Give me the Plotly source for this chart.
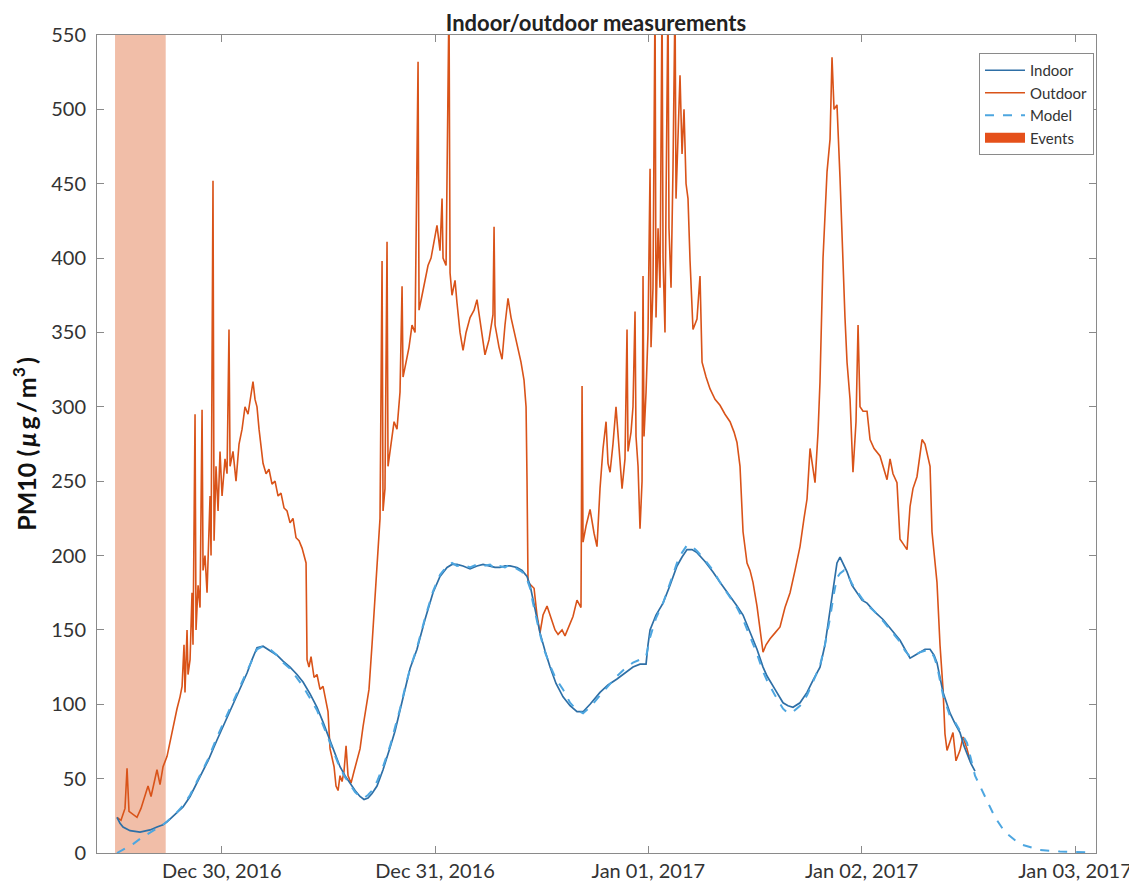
import pandas as pd
import plotly.graph_objects as go

BASE = pd.Timestamp("2016-12-29 00:00")

# ---- data (hours since 2016-12-29 00:00, PM10 in ug/m3) ----
out_h = [12.22, 12.67, 13.12, 13.35, 13.57, 14.02, 14.47, 14.92, 15.26, 15.71, 16.05, 16.50, 16.72, 17.06,
         17.40, 17.85, 18.19, 18.41, 18.75, 18.97, 19.31, 19.54, 19.76, 19.87, 20.10, 20.21, 20.44, 20.66,
         20.77, 21.00, 21.11, 21.34, 21.56, 21.79, 21.90, 22.12, 22.35, 22.57, 22.69, 22.80, 23.02, 23.14,
         23.36, 23.59, 23.81, 24.04, 24.37, 24.60, 24.82, 24.94, 25.27, 25.61, 25.95, 26.29, 26.62, 26.96,
         27.30, 27.52, 27.75, 27.97, 28.20, 28.42, 28.65, 28.99, 29.32, 29.66, 30.00, 30.34, 30.67, 31.01,
         31.35, 31.69, 32.02, 32.36, 32.70, 33.04, 33.37, 33.49, 33.60, 33.82, 34.05, 34.39, 34.72, 35.06,
         35.40, 35.74, 35.96, 36.19, 36.41, 36.64, 36.86, 37.09, 37.31, 37.54, 37.76, 37.99, 38.21, 38.55,
         38.89, 39.22, 39.56, 39.90, 40.24, 40.57, 40.91, 41.25, 41.59, 41.81, 42.04, 42.15, 42.37, 42.60,
         42.71, 43.05, 43.39, 43.72, 44.06, 44.29, 44.40, 44.74, 45.07, 45.41, 45.75, 46.09, 46.20, 46.54,
         46.87, 47.21, 47.55, 47.89, 48.22, 48.56, 48.79, 48.90, 49.24, 49.57, 49.69, 49.91, 50.25, 50.47,
         50.81, 51.15, 51.49, 51.94, 52.39, 52.72, 53.17, 53.62, 54.07, 54.52, 54.64, 54.75, 55.20, 55.54,
         55.87, 56.21, 56.55, 57.00, 57.34, 57.67, 58.01, 58.24, 58.35, 58.46, 58.80, 59.14, 59.47, 59.81,
         60.15, 60.60, 61.05, 61.50, 61.84, 62.29, 62.62, 63.07, 63.52, 63.97, 64.42, 64.54, 64.65, 64.99,
         65.44, 65.89, 66.22, 66.56, 66.90, 67.24, 67.46, 67.69, 68.02, 68.36, 68.70, 69.04, 69.37, 69.60,
         69.71, 70.05, 70.27, 70.50, 70.61, 70.84, 71.06, 71.29, 71.40, 71.51, 71.74, 71.96, 72.19, 72.30,
         72.52, 72.75, 72.86, 73.09, 73.31, 73.54, 73.65, 73.87, 73.99, 74.21, 74.32, 74.55, 74.77, 75.00,
         75.11, 75.34, 75.56, 75.79, 76.01, 76.24, 76.46, 76.69, 77.02, 77.47, 77.81, 78.04, 78.49, 78.94,
         79.50, 80.06, 80.62, 81.19, 81.64, 81.97, 82.31, 82.65, 83.10, 83.44, 83.77, 84.22, 84.56, 84.90,
         85.24, 85.69, 86.25, 86.81, 87.37, 87.94, 88.50, 89.06, 89.51, 89.85, 90.19, 90.52, 90.75, 91.09,
         91.31, 91.65, 91.87, 92.10, 92.44, 92.66, 92.89, 93.22, 93.56, 93.90, 94.12, 94.35, 94.69, 95.02,
         95.36, 95.59, 95.81, 96.15, 96.60, 96.94, 97.39, 98.06, 98.62, 98.85, 99.19, 99.52, 99.97, 100.31,
         100.65, 101.10, 101.44, 101.77, 102.22, 102.79, 103.12, 103.46, 103.69, 103.91, 104.25, 104.47,
         104.81, 105.15, 105.37, 105.60, 105.94, 106.27, 106.61, 107.06, 107.40, 107.85, 108.19]
out_v = [24, 22, 30, 57, 28, 26, 24, 30, 36, 45, 38, 50, 56, 46,
         58, 65, 75, 82, 90, 97, 105, 112, 140, 108, 150, 120, 130, 175,
         140, 295, 150, 180, 165, 298, 190, 200, 175, 215, 240, 200, 452, 210,
         260, 230, 270, 240, 265, 255, 352, 260, 270, 250, 275, 285, 300, 295,
         310, 317, 305, 300, 285, 275, 262, 255, 258, 248, 250, 240, 242, 232,
         230, 222, 225, 212, 210, 205, 198, 195, 130, 125, 132, 118, 120, 110,
         112, 100, 95, 70, 65, 58, 45, 42, 52, 48, 55, 72, 52, 47,
         55, 62, 70, 85, 98, 110, 140, 170, 200, 225, 398, 230, 245, 411,
         260, 275, 290, 285, 310, 381, 320, 330, 340, 355, 350, 532, 365, 375,
         385, 395, 400, 410, 422, 405, 440, 400, 395, 575, 390, 375, 385, 370,
         350, 338, 350, 360, 365, 372, 352, 335, 345, 362, 421, 355, 340, 332,
         355, 373, 360, 348, 338, 330, 318, 300, 250, 182, 180, 178, 160, 148,
         160, 166, 158, 150, 147, 150, 146, 152, 159, 170, 165, 314, 209, 220,
         231, 215, 206, 245, 272, 290, 262, 256, 275, 300, 270, 245, 265, 352,
         270, 283, 300, 364, 280, 260, 218, 250, 388, 280, 310, 350, 460, 340,
         380, 575, 360, 420, 380, 575, 400, 350, 440, 575, 420, 380, 460, 575,
         440, 480, 523, 470, 500, 450, 440, 398, 352, 359, 388, 330, 320, 312,
         305, 301, 295, 290, 283, 276, 260, 216, 195, 190, 182, 166, 150, 135,
         140, 144, 148, 152, 165, 175, 190, 206, 225, 238, 272, 260, 249, 283,
         317, 400, 430, 458, 480, 535, 500, 503, 454, 391, 360, 330, 305, 256,
         290, 355, 300, 297, 297, 278, 272, 267, 255, 251, 265, 255, 249, 211,
         208, 204, 233, 245, 253, 278, 275, 265, 260, 216, 195, 182,
         140, 110, 80, 69, 75, 81, 62, 69, 78, 70, 62]

in_h = [12.22, 12.56, 12.90, 13.69, 14.81, 15.94, 16.72, 17.40, 17.85, 18.75, 19.65, 20.44, 21.56, 22.46,
        23.47, 24.37, 25.27, 26.06, 26.85, 27.41, 27.97, 28.65, 29.44, 30.22, 30.90, 31.69, 32.47, 33.15,
        33.94, 34.72, 35.40, 36.19, 36.75, 37.31, 37.87, 38.44, 39.00, 39.56, 40.01, 40.46, 40.91, 41.47,
        42.15, 42.94, 43.50, 44.06, 44.62, 45.19, 45.97, 46.87, 47.77, 48.56, 49.35, 49.91, 50.47, 51.15,
        51.94, 52.72, 53.40, 54.19, 54.75, 55.31, 55.87, 56.44, 57.22, 57.79, 58.35, 58.69, 59.02, 59.47,
        59.81, 60.37, 60.94, 61.61, 62.40, 63.19, 63.97, 64.65, 65.44, 66.56, 67.46, 68.47, 69.37, 70.27,
        71.06, 71.74, 71.96, 72.19, 72.86, 73.65, 74.44, 75.22, 75.79, 76.35, 76.91, 77.47, 78.37, 79.27,
        80.06, 81.19, 81.97, 82.65, 83.44, 84.22, 84.90, 85.35, 86.25, 87.15, 87.71, 88.27, 89.06, 89.85,
        90.52, 91.31, 91.87, 92.44, 92.89, 93.22, 93.56, 94.01, 94.35, 94.91, 95.47, 96.04, 96.60, 97.50,
        98.40, 99.41, 100.31, 100.87, 101.44, 102.00, 102.56, 103.12, 103.69, 104.14, 104.47, 104.81,
        105.15, 105.60, 105.94, 106.50, 107.06, 107.51, 107.85, 108.30, 108.75]
in_v = [24, 20, 17.5, 15, 14, 15.5, 17.5, 19, 21, 26, 31, 38, 51, 62,
        76, 88, 101, 111, 121, 130, 138, 139, 136, 133, 129, 125, 120, 115,
        107, 98, 88, 76, 67, 58, 52, 47, 42, 38, 36, 37, 40, 45,
        56, 71, 82, 96, 110, 124, 137, 157, 175, 186, 192, 194, 194, 193,
        191, 193, 194, 193, 192, 192, 193, 193, 192, 190, 186, 180, 170, 158,
        148, 136, 125, 114, 105, 99, 95, 95, 100, 108, 113, 117, 121, 125,
        127, 127, 140, 150, 160, 168, 180, 193, 199, 204, 204, 202, 196, 189,
        182, 173, 166, 160, 148, 137, 125, 119, 110, 101, 99, 98, 101, 108,
        116, 125, 140, 162, 180, 195, 199, 193, 189, 180, 175, 170, 168, 162,
        157, 150, 143, 137, 131, 133, 135, 137, 137, 133, 128, 118,
        108, 100, 94, 87, 81, 72, 67, 60, 55]

mod_h = [12.22, 13.12, 14.02, 14.81, 15.94, 16.72, 17.62, 18.75, 19.65, 20.44, 21.56, 22.46, 23.47, 24.37,
         25.27, 26.06, 26.85, 27.41, 27.97, 28.65, 29.44, 30.22, 30.90, 31.69, 32.47, 33.15, 33.94, 34.72,
         35.40, 36.19, 36.75, 37.31, 37.87, 38.44, 39.00, 39.56, 40.01, 40.46, 40.91, 41.47, 42.15, 42.94,
         43.50, 44.06, 44.62, 45.19, 45.97, 46.87, 47.77, 48.56, 49.35, 49.91, 50.47, 51.15, 51.94, 52.72,
         53.40, 54.19, 54.75, 55.31, 55.87, 56.44, 57.22, 57.79, 58.35, 58.69, 59.02, 59.47, 59.81, 60.37,
         60.94, 61.61, 62.40, 63.19, 63.97, 64.65, 65.44, 66.56, 67.46, 68.47, 69.37, 70.27, 71.06, 71.74,
         72.19, 72.86, 73.65, 74.44, 75.22, 75.79, 76.35, 76.91, 77.47, 78.37, 79.27, 80.06, 81.19, 81.97,
         82.65, 83.44, 84.22, 84.90, 85.35, 86.25, 87.15, 87.71, 88.27, 89.06, 89.85, 90.52, 91.31, 91.87,
         92.44, 92.89, 93.22, 93.56, 94.01, 94.35, 94.91, 95.47, 96.04, 96.60, 97.50, 98.40, 99.41, 100.31,
         100.87, 101.44, 102.00, 102.56, 103.12, 103.69, 104.14, 104.47, 104.81, 105.15, 105.60, 105.94,
         106.50, 107.06, 107.51, 107.85, 108.30, 108.75, 109.87, 111.00, 112.12, 113.81, 116.06, 118.31, 121.69]
mod_v = [0, 3, 6, 9.5, 13.5, 16.5, 20, 26, 32, 39, 52, 63, 78, 90,
         102, 112, 122, 130, 137, 139, 137, 133, 128, 124, 118, 112, 104, 96,
         86, 74, 66, 57, 51, 46, 41, 38, 37, 39, 42, 48, 58, 72,
         84, 97, 111, 124, 138, 158, 176, 187, 193, 195, 193, 194, 192, 194,
         193, 194, 191, 193, 192, 194, 191, 189, 184, 178, 168, 156, 147, 135,
         126, 117, 110, 101, 96, 94, 98, 106, 112, 119, 124, 128, 130, 132,
         145, 158, 168, 182, 195, 202, 207, 206, 203, 197, 190, 182, 172, 165,
         157, 145, 134, 122, 116, 106, 97, 94, 95, 99, 106, 115, 126, 140,
         158, 175, 185, 188, 190, 188, 181, 176, 171, 167, 162, 156, 149, 142,
         136, 132, 133, 135, 136, 136, 132, 126, 116, 106, 98, 92,
         88, 82, 78, 74, 63, 52, 38, 24, 14, 6, 2, 1, 0.5]

event_start_h = [12.00]
event_end_h = [17.70]

x_range_h = [9.97, 122.36]
y_ticks = list(range(0, 551, 50))
x_tick_days = ["2016-12-30", "2016-12-31", "2017-01-01", "2017-01-02", "2017-01-03"]

def to_time(hours):
    return BASE + pd.to_timedelta(hours, unit="h")

FONT = "Lato, Open Sans, sans-serif"
fig = go.Figure()

# event shading
for s, e in zip(event_start_h, event_end_h):
    xs = to_time([s, e, e, s, s])
    fig.add_trace(go.Scatter(x=xs, y=[0, 0, 550, 550, 0], fill="toself", mode="lines",
                             line=dict(width=0), fillcolor="rgba(217,83,25,0.38)",
                             hoverinfo="skip", showlegend=False))

fig.add_trace(go.Scatter(x=to_time(out_h), y=out_v, mode="lines", name="Outdoor",
                         line=dict(color="#D95319", width=1.6), legendrank=2))
fig.add_trace(go.Scatter(x=to_time(in_h), y=in_v, mode="lines", name="Indoor",
                         line=dict(color="#2E6FA6", width=1.7), legendrank=1))
fig.add_trace(go.Scatter(x=to_time(mod_h), y=mod_v, mode="lines", name="Model",
                         line=dict(color="#4DA6E0", width=2, dash="dash"), legendrank=3))
fig.add_trace(go.Scatter(x=[None], y=[None], mode="lines", name="Events",
                         line=dict(width=14, color="#E5501A"), legendrank=4))

axis_common = dict(showgrid=False, zeroline=False, showline=True, linecolor="#8a8a8a", linewidth=1,
                   mirror="ticks", ticks="inside", ticklen=7, tickcolor="#8a8a8a", automargin=False,
                   tickfont=dict(family=FONT, size=20, color="#333333"))

W, H = 1129, 878
TS = "\u2009"
ylabel = ("<b>PM10 (" + TS + "<i>μ</i>" + TS + "g" + TS + "/" + TS + "m<sup>3</sup>" + TS + ")</b>")
fig.update_layout(
    width=W, height=H,
    margin=dict(l=89, r=41, t=27, b=33),
    paper_bgcolor="white", plot_bgcolor="white",
    title=dict(text="<b>Indoor/outdoor measurements</b>", x=(596 - 8) / W, xanchor="center",
               y=1 - 15 / H, yanchor="middle",
               font=dict(family=FONT, size=22, color="#222222")),
    legend=dict(x=0.998, y=0.978, xanchor="right", yanchor="top", bgcolor="white",
                bordercolor="#8a8a8a", borderwidth=1,
                font=dict(family=FONT, size=15, color="#333333"),
                tracegroupgap=0, itemwidth=40, entrywidth=95, entrywidthmode="pixels"),
    showlegend=True,
)
fig.update_xaxes(**axis_common, type="date", range=list(to_time(x_range_h)),
                 tickvals=pd.to_datetime(x_tick_days), tickformat="%b %d, %Y")
fig.update_yaxes(**axis_common, range=[0, 550], tickvals=y_ticks, ticklabelstandoff=6,
                 title=dict(text=ylabel, standoff=12,
                            font=dict(family=FONT, size=25, color="#111111")))

fig.write_html("out.html")
